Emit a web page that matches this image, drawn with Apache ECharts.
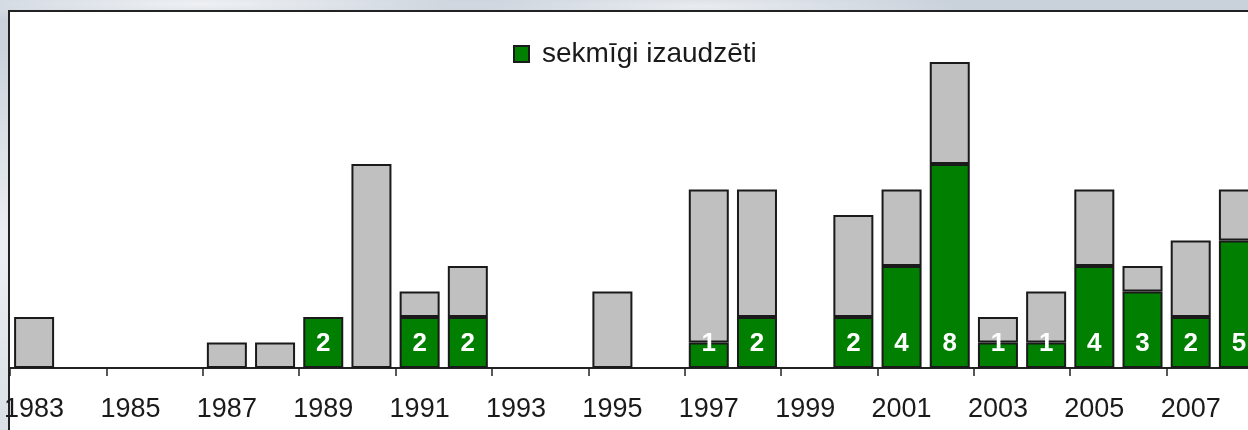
<!DOCTYPE html>
<html>
<head>
<meta charset="utf-8">
<script src="https://cdn.jsdelivr.net/npm/echarts@6/dist/echarts.min.js"></script>
<style>
	html, body { margin: 0; padding: 0; overflow: hidden; }
	body {
		width: 1248px; height: 430px;
		background: #cdd5de;
		background-image:
			radial-gradient(ellipse 300px 20px at 200px 4px, rgba(255,255,255,0.7), rgba(255,255,255,0)),
			radial-gradient(ellipse 260px 18px at 700px 6px, rgba(255,255,255,0.6), rgba(255,255,255,0)),
			radial-gradient(ellipse 40px 200px at 2px 250px, rgba(255,255,255,0.6), rgba(255,255,255,0)),
			linear-gradient(180deg, #c9d1db, #d8dee5);
	}
	/* the plot runs past the right edge, as in the original slide */
	#chart { width: 1263px; height: 430px; }
</style>
</head>
<body>
<div id="chart"></div>
<script>
// gadi
var years = ['1983','1984','1985','1986','1987','1988','1989','1990','1991','1992','1993','1994','1995',
	'1996','1997','1998','1999','2000','2001','2002','2003','2004','2005','2006','2007','2008'];
// sekmīgi izaudzēti (zaļie)
var sekmigi = [null,null,null,null,null,null,2,null,2,2,null,null,null,
	null,1,2,null,2,4,8,1,1,4,3,2,5];
// pārējie (pelēkā daļa virs zaļās)
var parejie = [2,null,null,null,1,1,null,8,1,2,null,null,3,
	null,6,5,null,4,3,4,1,2,3,1,3,2];

var myChart = echarts.init(document.getElementById('chart'));

var font = '"Liberation Sans", Arial, sans-serif';

var option = {
	backgroundColor: 'transparent',
	animation: false,
	graphic: [{
		type: 'rect',
		z: -10,
		silent: true,
		shape: { x: 9, y: 11, width: 1300, height: 500 },
		style: { fill: '#ffffff', stroke: '#222222', lineWidth: 2 }
	}],
	legend: {
		data: ['sekmīgi izaudzēti'],
		icon: 'rect',
		left: 508,
		top: 35,
		itemWidth: 15,
		itemHeight: 16,
		textStyle: {
			fontFamily: font,
			fontSize: 28,
			color: '#1a1a1a',
			padding: [0, 0, 0, 8]
		}
	},
	grid: {
		left: 10,
		right: 0,
		top: 62,
		bottom: 62,
		containLabel: false
	},
	xAxis: {
		type: 'category',
		data: years,
		axisLine: { lineStyle: { color: '#222', width: 2 } },
		axisTick: { show: true, interval: 1, length: 8, lineStyle: { color: '#222', width: 1.5 } },
		axisLabel: {
			interval: 1,
			margin: 28,
			fontFamily: font,
			fontSize: 27,
			color: '#1a1a1a'
		}
	},
	yAxis: {
		type: 'value',
		min: 0,
		max: 12,
		show: false,
		splitLine: { show: false }
	},
	series: [
		{
			name: 'sekmīgi izaudzēti',
			type: 'bar',
			stack: 'kopa',
			barCategoryGap: '17%',
			data: sekmigi,
			itemStyle: { color: '#007f00', borderColor: '#1a1a1a', borderWidth: 2 },
			label: {
				show: true,
				position: 'insideBottom',
				distance: 11,
				color: '#ffffff',
				fontFamily: font,
				fontWeight: 'bold',
				fontSize: 26
			}
		},
		{
			name: 'pārējie',
			type: 'bar',
			stack: 'kopa',
			barCategoryGap: '17%',
			data: parejie,
			itemStyle: { color: '#c0c0c0', borderColor: '#1a1a1a', borderWidth: 2 }
		}
	]
};

myChart.setOption(option);
</script>
</body>
</html>
